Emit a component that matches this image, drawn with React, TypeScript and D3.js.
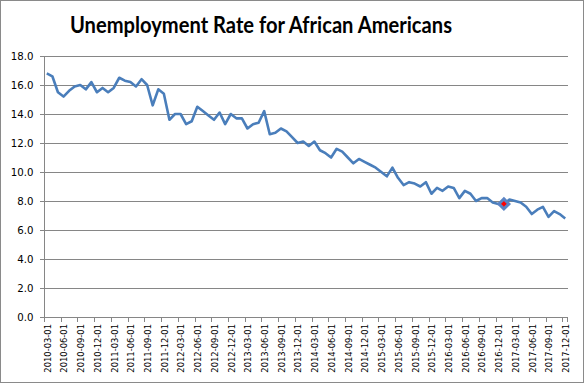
import React from "react";
import * as d3 from "d3";

const title = "Unemployment Rate for African Americans";

const months: string[] = d3
  .timeMonth.range(new Date(2010, 2, 1), new Date(2018, 0, 1))
  .map((d) => d3.timeFormat("%Y-%m-%d")(d));

const rates: number[] = [
  16.8, 16.6, 15.5, 15.2, 15.6, 15.9, 16.0, 15.7, 16.2, 15.5,
  15.8, 15.5, 15.8, 16.5, 16.3, 16.2, 15.9, 16.4, 16.0, 14.6,
  15.7, 15.4, 13.6, 14.0, 14.0, 13.3, 13.5, 14.5, 14.2, 13.9,
  13.6, 14.1, 13.3, 14.0, 13.7, 13.7, 13.0, 13.3, 13.4, 14.2,
  12.6, 12.7, 13.0, 12.8, 12.4, 12.0, 12.1, 11.8, 12.1, 11.5,
  11.3, 11.0, 11.6, 11.4, 11.0, 10.6, 10.9, 10.7, 10.5, 10.3,
  10.0, 9.7, 10.3, 9.6, 9.1, 9.3, 9.2, 9.0, 9.3, 8.5,
  8.9, 8.7, 9.0, 8.9, 8.2, 8.7, 8.5, 8.0, 8.2, 8.2,
  7.9, 7.8, 7.8, 8.1, 8.0, 7.9, 7.6, 7.1, 7.4, 7.6,
  6.9, 7.3, 7.1, 6.8,
];

const highlightIndex = 82;
const yTicks: number[] = [0, 2, 4, 6, 8, 10, 12, 14, 16, 18];

export default function App() {
  const W = 585;
  const H = 384;
  const left = 44;
  const right = 568;
  const top = 56;
  const bottom = 317;

  const x = d3.scaleBand<string>().domain(months).range([left, right]).padding(0);
  const y = d3.scaleLinear().domain([0, 18]).range([bottom, top]);
  const cx = (d: string) => (x(d) as number) + x.bandwidth() / 2;

  const line = d3
    .line<number>()
    .x((_, i) => cx(months[i]))
    .y((v) => y(v));

  const labelIdx = months.map((_, i) => i).filter((i) => i % 3 === 0);
  const hx = cx(months[highlightIndex]);
  const hy = y(rates[highlightIndex]);
  const r = 5;

  return (
    <svg
      width={W}
      height={H}
      style={{ position: "absolute", left: 0, top: 0, background: "#fff" }}
    >
      <rect x={0.5} y={0.5} width={W - 2} height={H - 2} fill="#fff" stroke="#8a8a8a" strokeWidth={1} />
      <text
        x={261}
        y={33}
        textAnchor="middle"
        fontFamily="Lato, 'Open Sans', sans-serif"
        fontWeight="bold"
        fontSize={22}
        textLength={382}
        lengthAdjust="spacingAndGlyphs"
        fill="#000"
      >
        {title}
      </text>
      {yTicks.map((t) => (
        <g key={t}>
          <line x1={left} x2={right} y1={Math.round(y(t)) + 0.5} y2={Math.round(y(t)) + 0.5} stroke="#868686" strokeWidth={1} />
          <line x1={left - 4} x2={left} y1={Math.round(y(t)) + 0.5} y2={Math.round(y(t)) + 0.5} stroke="#868686" strokeWidth={1} />
          <text
            x={33.5}
            y={y(t)}
            dy="0.36em"
            textAnchor="end"
            fontFamily="'DejaVu Sans', Verdana, sans-serif"
            fontSize={10.2}
            fill="#000"
          >
            {t.toFixed(1)}
          </text>
        </g>
      ))}
      <line x1={left + 0.5} x2={left + 0.5} y1={top} y2={bottom} stroke="#868686" strokeWidth={1} />
      <line x1={left} x2={right} y1={bottom + 0.5} y2={bottom + 0.5} stroke="#868686" strokeWidth={1} />
      {labelIdx.map((i) => {
        const bx = Math.round(x(months[i]) as number) + 0.5;
        return (
          <g key={months[i]}>
            <line x1={bx} x2={bx} y1={bottom} y2={bottom + 5} stroke="#868686" strokeWidth={1} />
            <text
              transform={`translate(${cx(months[i]) + 0.8},${324}) rotate(-90)`}
              dy="0.36em"
              textAnchor="end"
              fontFamily="'DejaVu Sans', Verdana, sans-serif"
              fontSize={8.4}
              fill="#000"
            >
              {months[i]}
            </text>
          </g>
        );
      })}
      <line x1={right - 0.5} x2={right - 0.5} y1={bottom} y2={bottom + 5} stroke="#868686" strokeWidth={1} />
      <path d={line(rates) || ""} fill="none" stroke="#4A7EBB" strokeWidth={2.6} strokeLinejoin="round" />
      <path
        d={`M${hx},${hy - r}L${hx + r},${hy}L${hx},${hy + r}L${hx - r},${hy}Z`}
        fill="#FF0000"
        stroke="#5B84C4"
        strokeWidth={3}
        strokeLinejoin="miter"
      />
    </svg>
  );
}
